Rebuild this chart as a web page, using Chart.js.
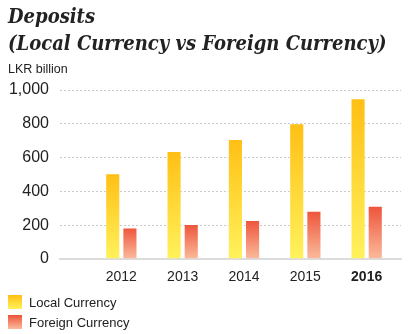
<!DOCTYPE html>
<html>
<head>
<meta charset="utf-8">
<script src="https://cdn.jsdelivr.net/npm/chart.js@4/dist/chart.umd.min.js"></script>
<style>
  html, body { margin: 0; padding: 0; background: #fff; }
  #wrap { position: relative; width: 408px; height: 334px; overflow: hidden; }
  #wrap canvas { position: absolute; left: 0; top: 0; }
  .title {
    position: absolute; left: 8px; margin: 0; white-space: nowrap;
    font-family: "DejaVu Serif Condensed", "DejaVu Serif", serif;
    font-style: italic; font-weight: bold; font-size: 20px; color: #222;
    line-height: 24px;
  }
  #unit {
    position: absolute; left: 8px; top: 62px;
    font: 12.5px "Liberation Sans", Arial, sans-serif; color: #222;
  }
  #legend { position: absolute; left: 8px; top: 292px; }
  .item { display: flex; align-items: center; height: 20px;
    font: 13px "Liberation Sans", Arial, sans-serif; color: #222; }
  .swatch { width: 14px; height: 14px; margin-right: 7px; }
</style>
</head>
<body>
<div id="wrap">
  <canvas id="myChart" width="408" height="334"></canvas>
  <div class="title" style="top:4px">Deposits</div>
  <div class="title" style="top:31px">(Local Currency vs Foreign Currency)</div>
  <div id="unit">LKR billion</div>
  <div id="legend"></div>
</div>
<script>
const years = [2012, 2013, 2014, 2015, 2016];
const localCurrency = [507, 639, 710, 803, 951];
const foreignCurrency = [187, 207, 231, 286, 315];
const yTicks = [0, 200, 400, 600, 800, 1000];

const FONT = '"Liberation Sans", Arial, sans-serif';
const localStops = ['#ffbf14', '#fff25c'];
const foreignStops = ['#ee5339', '#fbbb9c'];

// vertical gradient from the top of each bar down to the zero line
const barGradient = (stops) => (c) => {
  const chart = c.chart;
  const y = chart.scales.y;
  if (!chart.chartArea || !y || !c.raw) return stops[0];
  const top = y.getPixelForValue(c.raw.y);
  const base = y.getPixelForValue(0);
  if (!isFinite(top) || !isFinite(base) || top === base) return stops[0];
  const g = chart.ctx.createLinearGradient(0, top, 0, base);
  g.addColorStop(0, stops[0]);
  g.addColorStop(1, stops[1]);
  return g;
};

const toPoints = (values) => years.map((yr, i) => ({ x: yr, y: values[i] }));

const chart = new Chart(document.getElementById('myChart'), {
  type: 'bar',
  data: {
    datasets: [{
      label: 'Local Currency',
      data: toPoints(localCurrency),
      backgroundColor: barGradient(localStops),
      borderColor: 'rgba(255,255,255,0.35)',
      borderWidth: 1,
      categoryPercentage: 0.56,
      barPercentage: 0.88
    }, {
      label: 'Foreign Currency',
      data: toPoints(foreignCurrency),
      backgroundColor: barGradient(foreignStops),
      borderColor: 'rgba(255,255,255,0.35)',
      borderWidth: 1,
      categoryPercentage: 0.56,
      barPercentage: 0.88
    }]
  },
  options: {
    responsive: false,
    animation: false,
    layout: { padding: { left: 8, right: 7, top: 90, bottom: 51 } },
    plugins: {
      legend: { display: false },
      tooltip: { enabled: false }
    },
    scales: {
      x: {
        type: 'linear',
        offset: false,
        min: 2011,
        max: 2016.56,
        afterFit: (s) => { s.height = 24; },
        grid: { display: false },
        border: { display: true, color: '#dcdcdc', width: 2 },
        ticks: {
          stepSize: 1,
          includeBounds: false,
          autoSkip: false,
          maxRotation: 0,
          padding: 2,
          color: '#222',
          font: (c) => ({
            family: FONT,
            size: 14,
            weight: c.tick && c.tick.value === 2016 ? 'bold' : 'normal'
          }),
          callback: (v) => years.includes(v) ? String(v) : ''
        }
      },
      y: {
        min: yTicks[0],
        max: yTicks[yTicks.length - 1],
        afterFit: (s) => { s.width = 52; },
        grid: { color: '#c9c9c9', lineWidth: 1, drawTicks: false },
        border: { display: false, dash: [2, 2] },
        ticks: {
          stepSize: 200,
          padding: 11,
          color: '#222',
          font: { family: FONT, size: 16 },
          callback: (v) => yTicks.includes(v) ? v.toLocaleString('en-US') : ''
        }
      }
    }
  }
});

// legend below the plot, one row per series
const legend = document.getElementById('legend');
[localStops, foreignStops].forEach((stops, i) => {
  const item = document.createElement('div');
  item.className = 'item';
  const sw = document.createElement('span');
  sw.className = 'swatch';
  sw.style.background = `linear-gradient(${stops[0]}, ${stops[1]})`;
  item.appendChild(sw);
  item.appendChild(document.createTextNode(chart.data.datasets[i].label));
  legend.appendChild(item);
});
</script>
</body>
</html>
